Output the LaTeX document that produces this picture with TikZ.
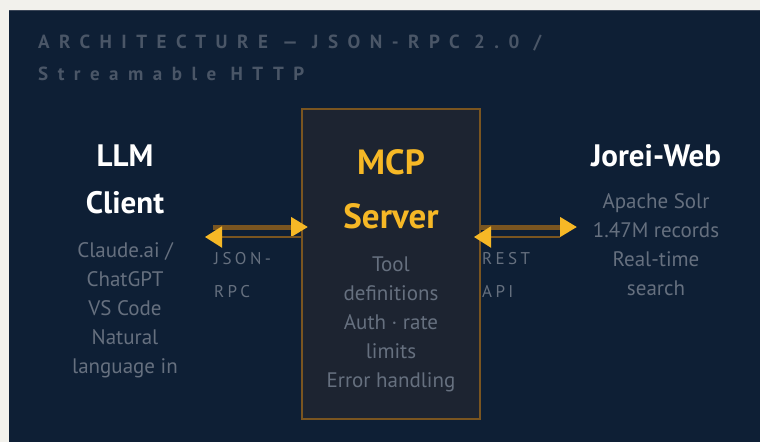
\documentclass[tikz,border=0pt]{standalone}
\usepackage{fontspec}
\setmainfont{PT Sans}
\usetikzlibrary{arrows.meta}
\definecolor{pagebg}{HTML}{F2F1EC}
\definecolor{panel}{HTML}{0E1F35}
\definecolor{panedge}{HTML}{3B4658}
\definecolor{ttlgray}{HTML}{4A5667}
\definecolor{subgray}{HTML}{66707F}
\definecolor{boxfill}{HTML}{1D2431}
\definecolor{brown}{HTML}{7A5520}
\definecolor{gold}{HTML}{F6B826}

\begin{document}
\begin{tikzpicture}[x=1pt,y=-1pt]
			\tikzset{
				head/.style = {anchor=north, inner sep=0pt, align=center, text=white,
					font=\fontsize{31}{47}\selectfont\bfseries},
				sub/.style = {anchor=north, inner sep=0pt, align=center, text=subgray,
					font=\fontsize{21}{29}\selectfont},
				wire/.style = {anchor=north west, inner sep=0pt, align=left, text=subgray,
					font=\fontsize{17}{33}\selectfont\addfontfeatures{LetterSpace=20}},
				bar/.style = {draw=brown, line width=5pt,
					-{Triangle[length=17pt,width=19pt,color=gold]}},
				thin/.style = {draw=brown, line width=2pt,
					-{Triangle[length=17pt,width=21pt,color=gold]}},
			}
			\useasboundingbox (0,0) rectangle (760,442);
			\fill [pagebg] (0,0) rectangle (760,442);
			\fill [panel] (9,10) rectangle (760,442);
			\draw [panedge, line width=1pt] (9,10.5) -- (760,10.5);
			% heading
			\node (title) [anchor=north west, inner sep=0pt, align=left, text=ttlgray,
				font=\fontsize{19}{32}\selectfont\bfseries\addfontfeatures{LetterSpace=50}]
				at (38,25.6) {\strut ARCHITECTURE — JSON-RPC 2.0 /\\Streamable HTTP};
			% server box
			\node (server) [draw=brown, fill=boxfill, line width=2pt,
				minimum width=178pt, minimum height=310pt] at (391,264) {};
			\node (srvname) [head, text=gold, font=\fontsize{35}{54}\selectfont\bfseries]
				at (391,136.2) {\strut MCP\\Server};
			\node (srvsub) [sub] at (391,250.7)
				{\strut Tool\\definitions\\Auth · rate\\limits\\Error handling};
			% client
			\node (client) [head] at (125,133.1) {\strut LLM\\Client};
			\node (clsub) [sub] at (125,236.7)
				{\strut Claude.ai /\\ChatGPT\\VS Code\\Natural\\language in};
			% jorei
			\node (jorei) [head, anchor=base] at (656,166) {Jorei-Web};
			\node (josub) [sub] at (656,187.7)
				{\strut Apache Solr\\1.47M records\\Real-time\\search};
			% wires
			\coordinate (cl-tx) at (213,227);
			\coordinate (cl-rx) at (205,237);
			\coordinate (jw-rx) at (577,227);
			\coordinate (jw-tx) at (560,237);
			\draw [bar] (cl-tx) -- (server.west |- cl-tx) [shorten >=-7pt];
			\draw [thin] (server.west |- cl-rx) -- (cl-rx);
			\draw [bar] (server.east |- jw-rx) -- (jw-rx);
			\draw [thin] (jw-tx) -- (server.east |- jw-tx) [shorten >=-7pt];
			\node (rpc) [wire] at (214,240.9) {\strut JSON-\\RPC};
			\node (rest) [wire] at (482,240.9) {\strut REST\\API};
		\end{tikzpicture}
\end{document}
